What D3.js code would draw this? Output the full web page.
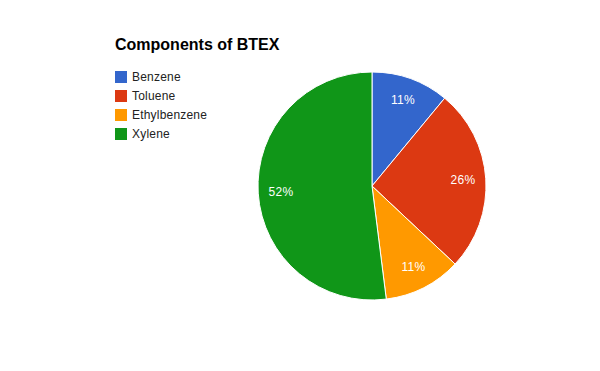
<!DOCTYPE html>
<html>
<head>
<meta charset="utf-8">
<script src="https://cdn.jsdelivr.net/npm/d3@7"></script>
<style>
  html, body { margin: 0; padding: 0; background: #fff; }
  svg { display: block; font-family: Arial, "Liberation Sans", sans-serif; }
</style>
</head>
<body>
<div id="chart"></div>
<script>
// Components of BTEX - pie chart
const categories = ["Benzene", "Toluene", "Ethylbenzene", "Xylene"];
const values = [11, 26, 11, 52];
const colors = ["#3366cc", "#dc3912", "#ff9900", "#109618"];

const width = 600, height = 371;
const cx = 372, cy = 186, radius = 114;

const svg = d3.select("#chart")
    .append("svg")
    .attr("width", width)
    .attr("height", height);

svg.append("rect").attr("width", width).attr("height", height).attr("fill", "#fff");

// Title
svg.append("text")
    .attr("x", 115)
    .attr("y", 50)
    .style("font-size", "16px")
    .style("font-weight", "bold")
    .attr("fill", "#000")
    .text("Components of BTEX");

// Legend
const legendY = d3.scalePoint().domain(categories).range([77, 134]);
const legend = svg.selectAll(".legend-item")
    .data(categories)
    .enter()
    .append("g")
    .attr("class", "legend-item")
    .attr("transform", d => `translate(115,${legendY(d)})`);

legend.append("rect")
    .attr("x", 0).attr("y", -6)
    .attr("width", 12).attr("height", 12)
    .attr("fill", (d, i) => colors[i]);

legend.append("text")
    .attr("x", 17)
    .attr("y", 0)
    .attr("dy", "0.35em")
    .style("font-size", "12px")
    .style("letter-spacing", "0.2px")
    .attr("fill", "#222")
    .text(d => d);

// Pie
const data = categories.map((c, i) => ({ name: c, value: values[i], color: colors[i] }));
const pie = d3.pie().value(d => d.value).sort(null);
const arcs = pie(data);
const total = d3.sum(values);

const arc = d3.arc().innerRadius(0).outerRadius(radius);
const labelArc = d3.arc().innerRadius(radius * 0.8).outerRadius(radius * 0.8);

const g = svg.append("g").attr("transform", `translate(${cx},${cy})`);

g.selectAll(".slice")
    .data(arcs)
    .enter()
    .append("path")
    .attr("class", "slice")
    .attr("d", arc)
    .attr("fill", d => d.data.color)
    .attr("stroke", "#fff")
    .attr("stroke-width", 1);

g.selectAll(".slice-label")
    .data(arcs)
    .enter()
    .append("text")
    .attr("class", "slice-label")
    .attr("transform", d => `translate(${labelArc.centroid(d)})`)
    .attr("text-anchor", "middle")
    .attr("dy", "0.35em")
    .style("font-size", "12px")
    .style("letter-spacing", "0.3px")
    .attr("fill", "#fff")
    .text(d => Math.round(d.data.value / total * 100) + "%");
</script>
</body>
</html>
